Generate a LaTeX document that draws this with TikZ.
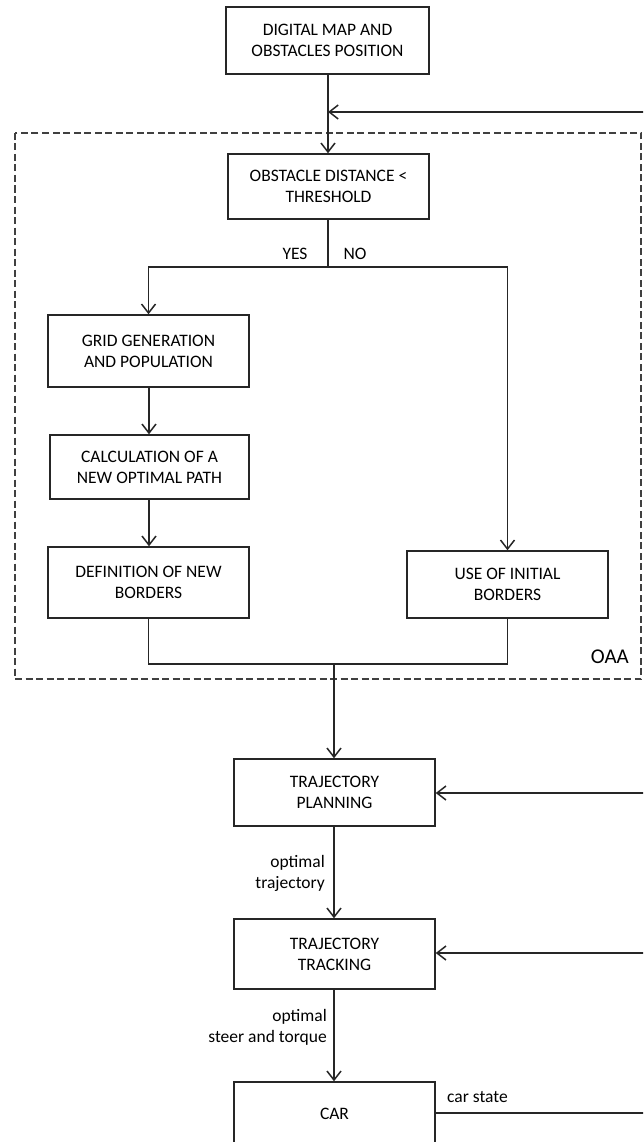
\documentclass[tikz,border=0pt]{standalone}
\usepackage{fontspec}
\setmainfont{Carlito}
\usetikzlibrary{arrows.meta,calc}
\begin{document}
\begin{tikzpicture}[x=1pt,y=-1pt,
  box/.style={draw=black!85,line width=1.5pt,align=center,inner sep=0pt,
    font=\fontsize{17.5}{21}\selectfont,text=black},
  lbl/.style={font=\fontsize{17.5}{21}\selectfont,text=black,inner sep=0pt},
  conn/.style={draw=black!85,line width=1.5pt},
  arr/.style={conn,-{Straight Barb[length=9pt,width=14pt,line width=1.5pt]}}]
\clip (0,0) rectangle (643,1142);
\fill[white] (0,0) rectangle (643,1142);
% OAA dashed frame
\draw[black!75,line width=1.5pt,dash pattern=on 7pt off 3.5pt] (15,133) rectangle (641,679);
\node[lbl,font=\fontsize{21}{25}\selectfont,anchor=east] (oaa) at (629,657) {OAA};
% boxes
\node[box,minimum width=203pt,minimum height=67pt] (map) at (327.5,40.5) {DIGITAL MAP AND\\OBSTACLES POSITION};
\node[box,minimum width=201pt,minimum height=65pt] (obst) at (328.5,186.5) {OBSTACLE DISTANCE \textless\\THRESHOLD};
\node[box,minimum width=201pt,minimum height=72pt] (grid) at (148.5,351) {GRID GENERATION\\AND POPULATION};
\node[box,minimum width=199pt,minimum height=64pt] (calc) at (149.5,467) {CALCULATION OF A\\NEW OPTIMAL PATH};
\node[box,minimum width=201pt,minimum height=71pt] (def) at (148.5,582.5) {DEFINITION OF NEW\\BORDERS};
\node[box,minimum width=201pt,minimum height=67pt] (use) at (507.5,584.5) {USE OF INITIAL\\BORDERS};
\node[box,minimum width=201pt,minimum height=67pt] (tp) at (334.5,792.5) {TRAJECTORY\\PLANNING};
\node[box,minimum width=201pt,minimum height=70pt] (tt) at (334.5,954) {TRAJECTORY\\TRACKING};
\node[box,minimum width=201pt,minimum height=64pt] (car) at (334.5,1114) {CAR};
% coordinates
\coordinate (fb1) at (645,112);
\coordinate (split) at (328,267);
\coordinate (mg) at (334,664);
\coordinate (fb2) at (645,793);
\coordinate (fb3) at (645,953);
\coordinate (fb4) at (645,1113);
% connectors
\draw[arr] (map.south -| 328,0) -- (obst.north -| 328,0);
\draw[arr] (fb1) -- (fb1 -| 328,0);
\draw[conn] (obst.south -| split) -- (split);
\draw[arr] (split) -| (148.5,0 |- grid.north);
\draw[arr] (split) -| (use.north);
\draw[arr] (grid.south -| 149,0) -- (calc.north -| 149,0);
\draw[arr] (calc.south -| 149,0) -- (def.north -| 149,0);
\draw[conn] (def.south) |- (mg) -| (use.south);
\draw[arr] (mg) -- (mg |- tp.north);
\draw[arr] (fb2) -- (tp.east |- fb2);
\draw[arr] (fb3) -- (tt.east |- fb3);
\draw[arr] (tp.south -| 334,0) -- (tt.north -| 334,0);
\draw[arr] (tt.south -| 334,0) -- (car.north -| 334,0);
\draw[conn] (car.east |- fb4) -- (fb4);
% labels
\node[lbl] (yes) at (295,254) {YES};
\node[lbl] (no) at (355,254) {NO};
\node[lbl,anchor=east,align=right] (l1) at (325,873) {optimal\\trajectory};
\node[lbl,anchor=east,align=right] (l2) at (327,1027) {optimal\\steer and torque};
\node[lbl,anchor=west] (cs) at (447,1097) {car state};
\end{tikzpicture}
\end{document}
